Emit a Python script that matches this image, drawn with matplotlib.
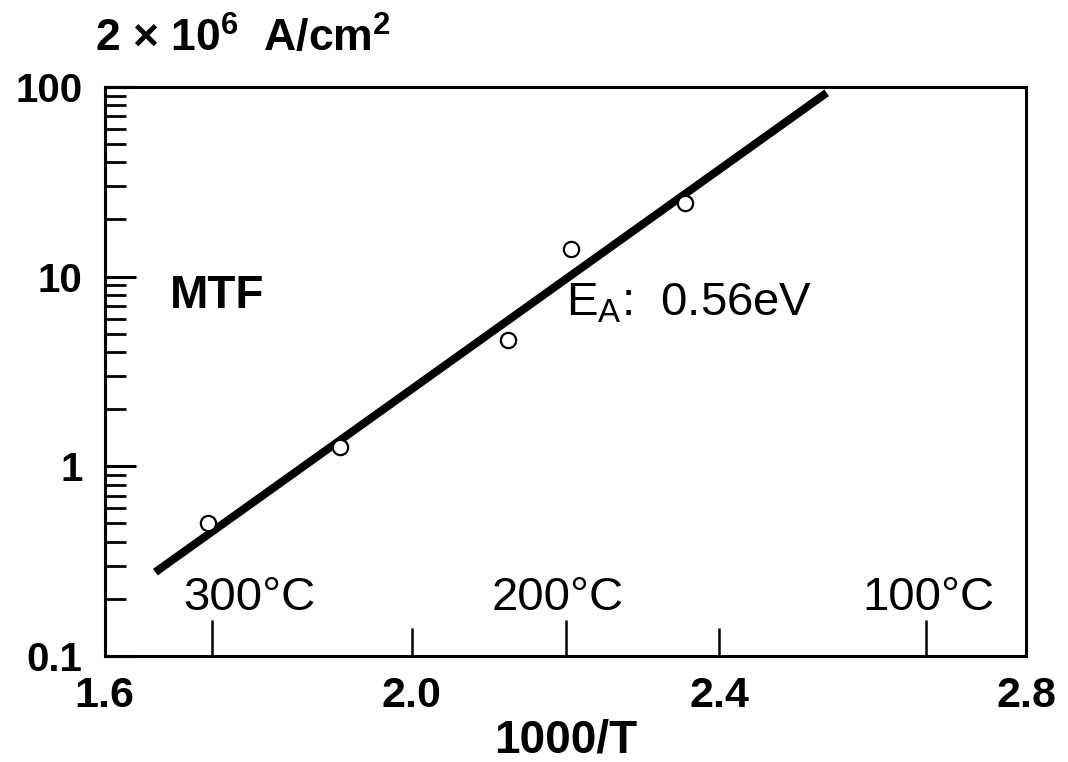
import matplotlib
matplotlib.use('Agg')
import matplotlib.pyplot as plt
import numpy as np

plt.rcParams['font.family'] = ['Liberation Sans', 'DejaVu Sans']
plt.rcParams['mathtext.fontset'] = 'custom'
plt.rcParams['mathtext.rm'] = 'Liberation Sans'
plt.rcParams['mathtext.it'] = 'Liberation Sans:italic'
plt.rcParams['mathtext.bf'] = 'Liberation Sans:bold'

# measured points (1000/T, current density in units of 2e6 A/cm2)
inv_T = [1.734, 1.907, 2.125, 2.207, 2.355]
mtf = [0.50, 1.26, 4.65, 14.0, 24.5]

# fitted line end points
fit_x = [1.666, 2.540]
fit_y = [0.277, 93.0]

x_ticks = [1.6, 2.0, 2.4, 2.8]
x_labels = ['1.6', '2.0', '2.4', '2.8']
y_ticks = [0.1, 1, 10, 100]
y_labels = ['0.1', '1', '10', '100']
temp_pos = [1.74, 2.2, 2.67]
temp_text_x = [1.789, 2.19, 2.673]
temp_labels = ['300°C', '200°C', '100°C']

fig = plt.figure(figsize=(10.68, 7.62), dpi=100)
ax = fig.add_axes([0.098, 0.139, 0.863, 0.747])

ax.plot(fit_x, fit_y, color='k', lw=5.8, solid_capstyle='butt')
ax.plot(inv_T, mtf, ls='none', marker='o', ms=11, mfc='white', mec='k', mew=1.6)

ax.set_yscale('log')
ax.set_xlim(1.6, 2.8)
ax.set_ylim(0.1, 100)

ax.set_xticks(x_ticks)
ax.set_xticklabels(x_labels, fontsize=31, fontweight='bold')
ax.set_xticks(temp_pos, minor=True)
ax.tick_params(axis='x', which='major', direction='in', length=20, width=1.8, pad=14)
ax.tick_params(axis='x', which='minor', direction='in', length=26, width=1.8)

ax.set_yticks(y_ticks)
ax.set_yticklabels(y_labels, fontsize=29, fontweight='bold')
ax.yaxis.set_minor_locator(matplotlib.ticker.LogLocator(base=10, subs=np.arange(2, 10)))
ax.yaxis.set_minor_formatter(matplotlib.ticker.NullFormatter())
ax.tick_params(axis='y', which='major', direction='in', length=22, width=2.2, pad=16)
ax.tick_params(axis='y', which='minor', direction='in', length=15, width=2.0)

for s in ax.spines.values():
    s.set_linewidth(2.2)

for xp, t in zip(temp_text_x, temp_labels):
    ax.text(xp, 0.155, t, fontsize=34, ha='center', va='bottom')

ax.text(1.685, 7.9, 'MTF', fontsize=33, fontweight='bold', va='center')
ax.text(2.2, 7.2, r'E$_{\mathrm{A}}$:  0.56eV', fontsize=34, va='center')

ax.set_xlabel('1000/T', fontsize=33, fontweight='bold', labelpad=2)
fig.text(0.089, 0.932, r'2 × 10$^{\mathbf{6}}$  A/cm$^{\mathbf{2}}$', fontsize=32,
         fontweight='bold', va='baseline')

fig.savefig('out.png', dpi=100)
